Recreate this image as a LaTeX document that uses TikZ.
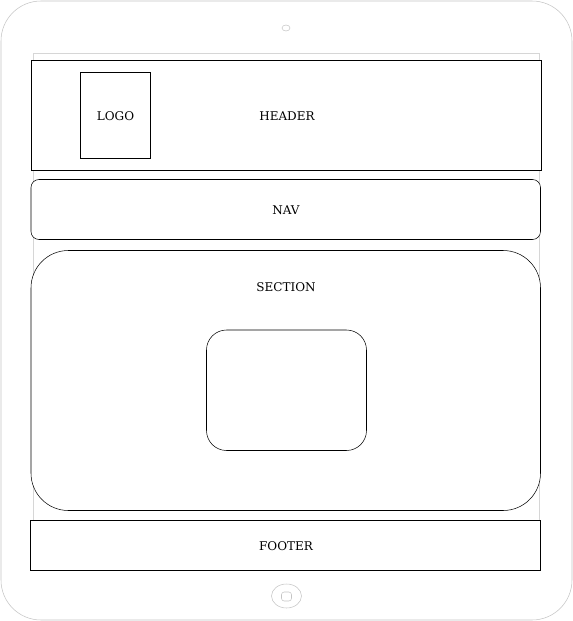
\documentclass[tikz,border=0pt]{standalone}
\usepackage{fontspec}
\setmainfont{DejaVu Serif}
\definecolor{bezel}{HTML}{C4C4C4}
\definecolor{screen}{HTML}{D6D6D6}
\begin{document}
\begin{tikzpicture}[x=0.75pt,y=-0.75pt,font=\fontsize{9pt}{11pt}\selectfont]
  \useasboundingbox (0,0) rectangle (573,621);
  % tablet frame
  \draw[bezel,rounded corners=30pt] (1,1) rectangle (572,620);
  \draw[bezel] (286,28) ellipse (4 and 3);
  \draw[screen] (33.5,53) rectangle (539.5,520);
  \draw[bezel] (286.5,596) ellipse (15 and 12);
  \draw[bezel,rounded corners=2pt] (281.5,592) rectangle (291.5,601);

  % page blocks
  \draw[fill=white] (31,60.5) rectangle (541.5,170.5);
  \draw (80.5,72.5) rectangle (150.5,158);
  \node (logo) at (115.5,116) {LOGO};
  \node (header) at (287,116) {HEADER};

  \draw[fill=white,rounded corners=6pt] (31,179.5) rectangle (540.5,239.5);
  \node (nav) at (286,210) {NAV};

  \draw[fill=white,rounded corners=28pt] (31,250.5) rectangle (540.5,510.5);
  \node (section) at (286,287) {SECTION};
  \draw[rounded corners=15pt] (206.5,330) rectangle (366.5,450.5);

  \draw[fill=white] (30.5,520.5) rectangle (540.5,570.5);
  \node (footer) at (286,546) {FOOTER};
\end{tikzpicture}
\end{document}
